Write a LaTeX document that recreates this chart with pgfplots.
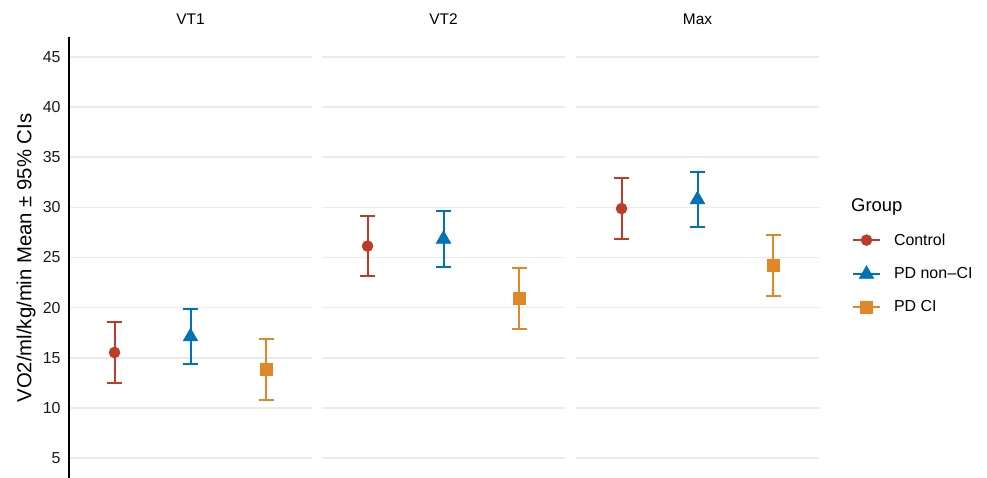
\documentclass[border=0pt]{standalone}
\usepackage{pgfplots}
\pgfplotsset{compat=1.18}
\usepackage{fontspec}
\setmainfont{Liberation Sans}
\definecolor{cRed}{HTML}{BC3C29}
\definecolor{cBlue}{HTML}{0072B5}
\definecolor{cOrange}{HTML}{E18727}
\definecolor{gridc}{HTML}{EBEBEB}
\pgfplotsset{
 panel/.style={scale only axis, width=243bp, height=441bp,
   xmin=0.4, xmax=3.6, ymin=3, ymax=47, ytick={5,10,...,45}, xtick=\empty,
   ymajorgrids, grid style={gridc, line width=1.6bp},
   axis line style={draw=none}, ytick style={draw=none}, clip=false,
   /pgf/number format/assume math mode=true,
   tick label style={font=\fontsize{16}{19}\selectfont, text=black!90},
   yticklabel style={xshift=-5bp},
   title style={font=\fontsize{15.5}{19}\selectfont, at={(0.5,1)}, anchor=center, yshift=12bp},
   legend image code/.code={\draw[##1, line width=2bp] (0bp,0bp) -- (27bp,0bp); \draw[##1] plot coordinates {(13.5bp,0bp)};}},
 ctrl/.style={only marks, line width=2bp, draw=cRed, fill=cRed, mark=*, mark size=5.5bp, mark options={draw=cRed, fill=cRed, line width=0.5bp},
   error bars/.cd, y dir=both, y explicit, error bar style={cRed, line width=2bp},
   error mark options={rotate=90, mark size=7.3bp, line width=2bp, cRed}},
 pdn/.style={only marks, line width=2bp, draw=cBlue, fill=cBlue, mark=triangle*, mark size=8.5bp, mark options={draw=cBlue, fill=cBlue, line width=0.5bp},
   error bars/.cd, y dir=both, y explicit, error bar style={cBlue, line width=2bp},
   error mark options={rotate=90, mark size=7.3bp, line width=2bp, cBlue}},
 pdc/.style={only marks, line width=2bp, draw=cOrange, fill=cOrange, mark=square*, mark size=6bp, mark options={draw=cOrange, fill=cOrange, line width=0.5bp},
   error bars/.cd, y dir=both, y explicit, error bar style={cOrange, line width=2bp},
   error mark options={rotate=90, mark size=7.3bp, line width=2bp, cOrange}},
}
\begin{document}
\begin{tikzpicture}
\useasboundingbox (0,0) rectangle (987bp,478bp);
% Panel VT1
\begin{axis}[panel, at={(69bp,0bp)}, anchor=south west, title={VT1}]
\addplot[ctrl] coordinates {(1,15.52) +- (0,3.02)};
\addplot[pdn] coordinates {(2,17.10) +- (0,2.75)};
\addplot[pdc] coordinates {(3,13.84) +- (0,3.03)};
\draw[black, line width=1.1bp] (rel axis cs:0,0) -- (rel axis cs:0,1.0);
\end{axis}
% Panel VT2
\begin{axis}[panel, at={(322bp,0bp)}, anchor=south west, title={VT2}, yticklabels={}]
\addplot[ctrl] coordinates {(1,26.14) +- (0,3.03)};
\addplot[pdn] coordinates {(2,26.84) +- (0,2.77)};
\addplot[pdc] coordinates {(3,20.95) +- (0,3.05)};
\end{axis}
% Panel Max
\begin{axis}[panel, at={(576bp,0bp)}, anchor=south west, title={Max}, yticklabels={},
  legend style={at={(rel axis cs:1.135,0.464)}, anchor=west, draw=none, fill=none,
    font=\fontsize{16}{18}\selectfont, row sep=18bp, inner sep=0pt,
    nodes={inner xsep=0pt, inner ysep=1bp}, /tikz/every even column/.append style={column sep=0bp}},
  legend cell align=left]
\addplot[ctrl] coordinates {(1,29.88) +- (0,3.02)};
\addlegendentry{\hspace{13bp}Control}
\addplot[pdn] coordinates {(2,30.78) +- (0,2.78)};
\addlegendentry{\hspace{13bp}PD non{\fontspec{DejaVu Sans}\kern0.5bp}–CI}
\addplot[pdc] coordinates {(3,24.23) +- (0,3.03)};
\addlegendentry{\hspace{13bp}PD CI}
\end{axis}
\node[anchor=west, font=\fontsize{18.5}{22}\selectfont, inner sep=0pt] at (851bp,271bp) {Group};
\node[rotate=90, font=\fontsize{20.4}{24}\selectfont, inner sep=0pt] at (26bp,220bp) {VO2/ml/kg/min Mean ± 95\% CIs};
\end{tikzpicture}
\end{document}
